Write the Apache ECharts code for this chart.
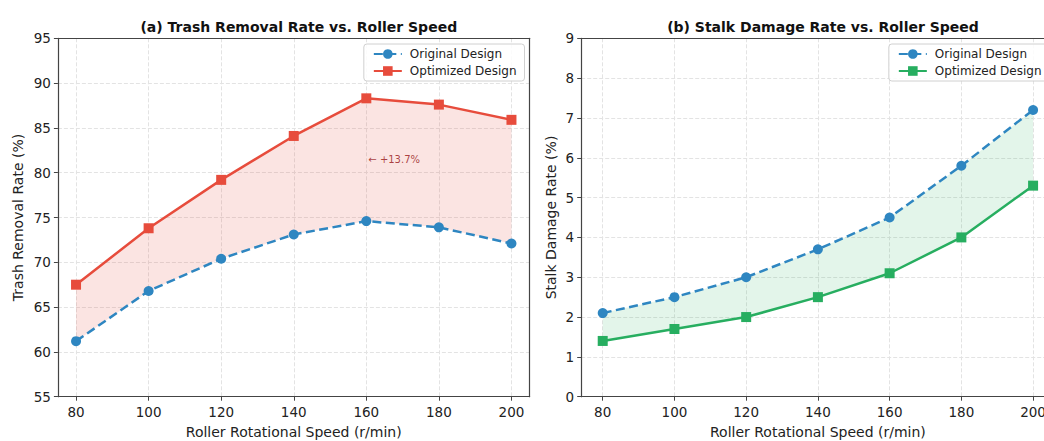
<!DOCTYPE html>
<html>
<head>
<meta charset="utf-8">
<title>Roller Speed Comparison</title>
<script src="https://cdn.jsdelivr.net/npm/echarts@6/dist/echarts.min.js"></script>
<style>
  html, body { margin: 0; padding: 0; background: #fff; }
  #chart { width: 1044px; height: 441px; }
</style>
</head>
<body>
<div id="chart"></div>
<script>
// Roller rotational speed (r/min)
const speeds = [80, 100, 120, 140, 160, 180, 200];
const speedTicks = [80, 100, 120, 140, 160, 180, 200];

// (a) Trash removal rate (%)
const trashOriginal = [61.2, 66.8, 70.4, 73.1, 74.6, 73.9, 72.1];
const trashOptimized = [67.5, 73.8, 79.2, 84.1, 88.3, 87.6, 85.9];

// (b) Stalk damage rate (%)
const damageOriginal = [2.1, 2.5, 3.0, 3.7, 4.5, 5.8, 7.2];
const damageOptimized = [1.4, 1.7, 2.0, 2.5, 3.1, 4.0, 5.3];

// Speed at which the gain is annotated on panel (a)
const annotateSpeed = 160;

const FONT = 'DejaVu Sans';
const BLUE = '#2E86C1';
const RED = '#E74C3C';
const GREEN = '#27AE60';
const SPINE = '#444';

const pairs = (xs, ys) => xs.map((x, i) => [x, ys[i]]);

// Shaded band between two curves, drawn as a single polygon in data space
function bandSeries(gridIdx, lower, upper, fill) {
  return {
    type: 'custom',
    xAxisIndex: gridIdx,
    yAxisIndex: gridIdx,
    silent: true,
    z: 1,
    data: speeds.map((x, i) => [x, lower[i], upper[i]]),
    renderItem: function (params, api) {
      if (params.dataIndex !== 0) return null;
      const pts = [];
      for (let i = 0; i < speeds.length; i++) pts.push(api.coord([speeds[i], upper[i]]));
      for (let i = speeds.length - 1; i >= 0; i--) pts.push(api.coord([speeds[i], lower[i]]));
      return { type: 'polygon', shape: { points: pts }, style: { fill: fill, stroke: null } };
    }
  };
}

function lineSeries(name, gridIdx, ys, color, symbol, dashed) {
  return {
    name: name,
    type: 'line',
    xAxisIndex: gridIdx,
    yAxisIndex: gridIdx,
    data: pairs(speeds, ys),
    symbol: symbol,
    symbolSize: symbol === 'rect' ? 10 : 10,
    showSymbol: true,
    z: 3,
    itemStyle: { color: color, borderWidth: 0 },
    lineStyle: { color: color, width: 2.5, type: dashed ? [9, 4.5] : 'solid' },
    emphasis: { disabled: true },
    animation: false
  };
}

const gridLine = { show: true, lineStyle: { color: '#e3e3e3', type: [4, 2], width: 1 } };

function xAxisFor(gridIdx, min, max) {
  return {
    type: 'value',
    gridIndex: gridIdx,
    min: min,
    max: max,
    name: 'Roller Rotational Speed (r/min)',
    nameLocation: 'middle',
    nameGap: 28,
    nameTextStyle: { fontFamily: FONT, fontSize: 14, color: '#222' },
    axisLine: { show: true, onZero: false, lineStyle: { color: SPINE, width: 1.2 } },
    axisTick: { show: true, inside: false, length: 4, customValues: speedTicks, lineStyle: { color: SPINE } },
    axisLabel: { customValues: speedTicks, margin: 8, fontFamily: FONT, fontSize: 13.5, color: '#222' },
    splitLine: gridLine
  };
}

// Plain spine along the top / right edge of a panel
function topSpine(gridIdx, min, max) {
  return {
    type: 'value', gridIndex: gridIdx, position: 'top', min: min, max: max,
    axisLine: { show: true, onZero: false, lineStyle: { color: SPINE, width: 1.2 } },
    axisTick: { show: false }, axisLabel: { show: false }, splitLine: { show: false }
  };
}
function rightSpine(gridIdx, min, max) {
  return {
    type: 'value', gridIndex: gridIdx, position: 'right', min: min, max: max,
    axisLine: { show: true, onZero: false, lineStyle: { color: SPINE, width: 1.2 } },
    axisTick: { show: false }, axisLabel: { show: false }, splitLine: { show: false }
  };
}

function yAxisFor(gridIdx, name, min, max, step, gap) {
  return {
    type: 'value',
    gridIndex: gridIdx,
    min: min,
    max: max,
    interval: step,
    name: name,
    nameLocation: 'middle',
    nameGap: gap,
    nameTextStyle: { fontFamily: FONT, fontSize: 14, color: '#222' },
    axisLine: { show: true, onZero: false, lineStyle: { color: SPINE, width: 1.2 } },
    axisTick: { show: true, inside: false, length: 4, lineStyle: { color: SPINE } },
    axisLabel: { margin: 7, fontFamily: FONT, fontSize: 13.5, color: '#222' },
    splitLine: gridLine
  };
}

function legendFor(prefix, right) {
  return {
    orient: 'vertical',
    right: right,
    top: 44,
    data: [prefix + 'Original Design', prefix + 'Optimized Design'],
    formatter: (n) => n.slice(prefix.length),
    itemWidth: 28,
    itemHeight: 12,
    itemGap: 5,
    padding: [4, 8, 4, 9],
    backgroundColor: 'rgba(255,255,255,0.85)',
    borderColor: '#d0d0d0',
    borderWidth: 1,
    borderRadius: 3,
    selectedMode: false,
    textStyle: { fontFamily: FONT, fontSize: 12, color: '#222', padding: [0, 0, 0, 3] }
  };
}

const gainIdx = speeds.indexOf(annotateSpeed);
const gain = trashOptimized[gainIdx] - trashOriginal[gainIdx];
const gainMid = (trashOptimized[gainIdx] + trashOriginal[gainIdx]) / 2;

const optimizedA = lineSeries('a:Optimized Design', 0, trashOptimized, RED, 'rect', false);
optimizedA.markPoint = {
  silent: true,
  symbol: 'circle',
  symbolSize: 0,
  animation: false,
  data: [{ coord: [annotateSpeed, gainMid] }],
  label: {
    show: true,
    position: 'right',
    distance: 2,
    formatter: '\u2190 +' + gain.toFixed(1) + '%',
    fontFamily: FONT,
    fontSize: 10,
    color: 'rgba(150,20,20,0.8)'
  }
};

const option = {
  animation: false,
  backgroundColor: '#fff',
  title: [
    {
      text: '(a) Trash Removal Rate vs. Roller Speed',
      left: 293.8, top: 15, textAlign: 'center',
      textStyle: { fontFamily: FONT, fontSize: 14, fontWeight: 'bold', color: '#111' }
    },
    {
      text: '(b) Stalk Damage Rate vs. Roller Speed',
      left: 818, top: 15, textAlign: 'center',
      textStyle: { fontFamily: FONT, fontSize: 14, fontWeight: 'bold', color: '#111' }
    }
  ],
  legend: [
    legendFor('a:', 1044 - 524.5),
    legendFor('b:', 1044 - 1049.5)
  ],
  grid: [
    { left: 57.9, top: 38.3, width: 471.7, height: 358.4, outerBoundsMode: 'none', containLabel: false },
    { left: 581.2, top: 38.3, width: 473.4, height: 358.4, outerBoundsMode: 'none', containLabel: false }
  ],
  xAxis: [xAxisFor(0, 75, 205), xAxisFor(1, 74, 206), topSpine(0, 75, 205), topSpine(1, 74, 206)],
  yAxis: [
    yAxisFor(0, 'Trash Removal Rate (%)', 55, 95, 5, 33),
    yAxisFor(1, 'Stalk Damage Rate (%)', 0, 9, 1, 23),
    rightSpine(0, 55, 95),
    rightSpine(1, 0, 9)
  ],
  series: [
    bandSeries(0, trashOriginal, trashOptimized, 'rgba(231,76,60,0.15)'),
    lineSeries('a:Original Design', 0, trashOriginal, BLUE, 'circle', true),
    optimizedA,
    bandSeries(1, damageOptimized, damageOriginal, 'rgba(39,174,96,0.13)'),
    lineSeries('b:Original Design', 1, damageOriginal, BLUE, 'circle', true),
    lineSeries('b:Optimized Design', 1, damageOptimized, GREEN, 'rect', false)
  ]
};

const chart = echarts.init(document.getElementById('chart'), null, { renderer: 'svg' });
chart.setOption(option);
</script>
</body>
</html>
